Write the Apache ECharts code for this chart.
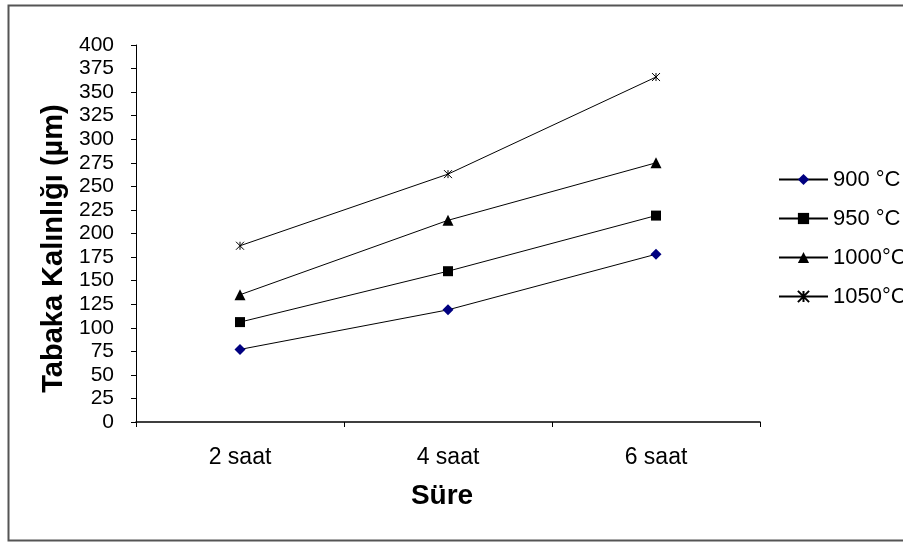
<!DOCTYPE html>
<html>
<head>
<meta charset="utf-8">
<script src="https://cdn.jsdelivr.net/npm/echarts@6/dist/echarts.min.js"></script>
<style>
  html, body { margin: 0; padding: 0; background: #fff; }
  #chart { width: 903px; height: 543px; }
</style>
</head>
<body>
<div id="chart"></div>
<script>
// kategoriler ve seriler
var categories = ["2 saat", "4 saat", "6 saat"];
var seriesNames = ["900 °C", "950 °C", "1000°C", "1050°C"];
var t900 = [77, 119, 178];
var t950 = [106, 160, 219];
var t1000 = [135, 214, 275];
var t1050 = [187, 263, 366];
var yTicks = [0, 400, 25]; // min, max, interval

var font = "Liberation Sans, Arial, sans-serif";
var starPath = "path://M0,0L10,10M10,0L0,10M5,0L5,10";

function makeSeries(name, data, symbol, size, fill) {
  return {
    name: name,
    type: "line",
    data: data,
    symbol: symbol,
    symbolSize: size,
    lineStyle: { color: "#000", width: 1 },
    itemStyle: {
      color: fill,
      borderColor: symbol === starPath ? "#000" : fill,
      borderWidth: symbol === starPath ? 1 : 0
    },
    emphasis: { disabled: true },
    animation: false
  };
}

var chart = echarts.init(document.getElementById("chart"));
var option = {
  backgroundColor: "#fff",
  textStyle: { fontFamily: font },
  graphic: [{
    type: "rect",
    shape: { x: 8.5, y: 5.5, width: 900, height: 535 },
    style: { fill: "none", stroke: "#555", lineWidth: 2 },
    silent: true
  }],
  grid: { left: 136, right: 143, top: 45, bottom: 121 },
  legend: {
    orient: "vertical",
    left: 773,
    top: 163,
    itemWidth: 49,
    itemHeight: 14,
    itemGap: 16,
    data: seriesNames,
    textStyle: { fontFamily: font, fontSize: 22, lineHeight: 23, color: "#000" }
  },
  xAxis: {
    type: "category",
    data: categories,
    boundaryGap: true,
    name: "Süre",
    nameLocation: "middle",
    nameGap: 60,
    nameTextStyle: {
      fontFamily: font, fontSize: 28, fontWeight: "bold", color: "#000",
      padding: [0, 12, 0, 0]
    },
    axisLine: { lineStyle: { color: "#000", width: 1.5 } },
    axisTick: { show: true, length: 5, alignWithLabel: false, lineStyle: { color: "#000" } },
    axisLabel: { margin: 24, fontSize: 23, color: "#000", fontFamily: font }
  },
  yAxis: {
    type: "value",
    min: yTicks[0],
    max: yTicks[1],
    interval: yTicks[2],
    name: "Tabaka Kalınlığı (µm)",
    nameLocation: "middle",
    nameGap: 64,
    nameTextStyle: {
      fontFamily: font, fontSize: 29, fontWeight: "bold", color: "#000",
      padding: [0, 30, 0, 0]
    },
    splitLine: { show: false },
    axisLine: { show: true, lineStyle: { color: "#000", width: 1 } },
    axisTick: { show: true, length: 5, lineStyle: { color: "#000" } },
    axisLabel: { margin: 22, fontSize: 21, color: "#000", fontFamily: font }
  },
  series: [
    makeSeries(seriesNames[0], t900, "diamond", 11, "#000080"),
    makeSeries(seriesNames[1], t950, "rect", 10, "#000"),
    makeSeries(seriesNames[2], t1000, "triangle", 11, "#000"),
    makeSeries(seriesNames[3], t1050, starPath, 8, "none")
  ]
};
chart.setOption(option);
</script>
</body>
</html>
